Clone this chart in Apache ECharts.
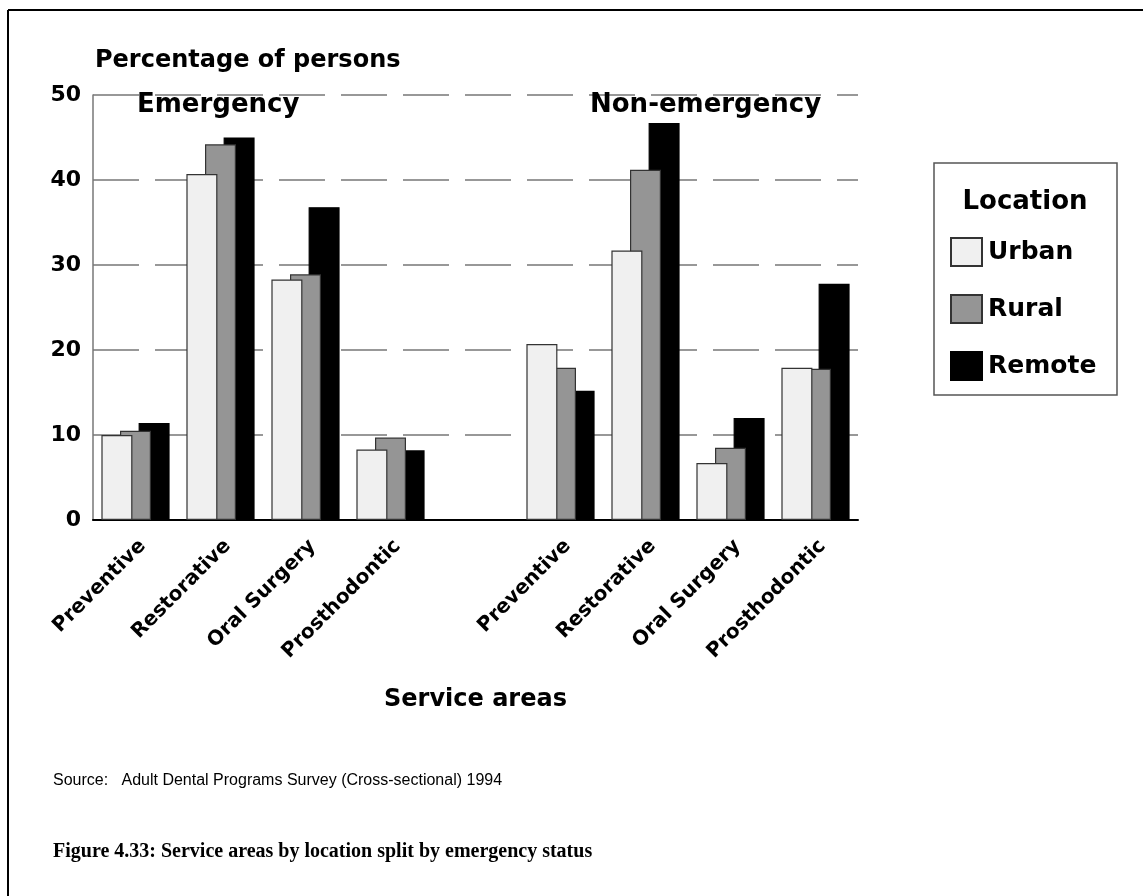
<!DOCTYPE html>
<html>
<head>
<meta charset="utf-8">
<script src="https://cdn.jsdelivr.net/npm/echarts@6/dist/echarts.min.js"></script>
<style>
html,body{margin:0;padding:0;background:#fff;}
#chart{width:1143px;height:896px;}
</style>
</head>
<body>
<div id="chart"></div>
<script>
// ---- data ----
const serviceAreas = ['Preventive', 'Restorative', 'Oral Surgery', 'Prosthodontic'];
const groupLabels = ['Emergency', 'Non-emergency'];
const locations = ['Urban', 'Rural', 'Remote'];
const emergencyUrban = [10.0, 40.7, 28.3, 8.3];
const emergencyRural = [10.5, 44.2, 28.9, 9.7];
const emergencyRemote = [11.4, 45.0, 36.8, 8.2];
const nonEmergencyUrban = [20.7, 31.7, 6.7, 17.9];
const nonEmergencyRural = [17.9, 41.2, 8.5, 17.8];
const nonEmergencyRemote = [15.2, 46.7, 12.0, 27.8];
const yTicks = [0, 10, 20, 30, 40, 50];
const yTitle = 'Percentage of persons';
const xTitle = 'Service areas';
const legendTitle = 'Location';
const sourceText = 'Source:   Adult Dental Programs Survey (Cross-sectional) 1994';
const captionText = 'Figure 4.33: Service areas by location split by emergency status';

// categories: 4 emergency, one empty spacer, 4 non-emergency
const categories = serviceAreas.map(s => 'E|' + s).concat(['gap|']).concat(serviceAreas.map(s => 'N|' + s));
function join(a, b) { return a.concat([null]).concat(b); }
const seriesValues = [
  join(emergencyUrban, nonEmergencyUrban),
  join(emergencyRural, nonEmergencyRural),
  join(emergencyRemote, nonEmergencyRemote)
];
const fills = ['#f0f0f0', '#959595', '#000000'];
const zs = [4, 3, 2];

const FONT = 'DejaVu Sans';
const chart = echarts.init(document.getElementById('chart'), null, {renderer: 'canvas'});

const option = {
  backgroundColor: '#ffffff',
  animation: false,
  grid: {left: 93, right: 285, top: 95, bottom: 376, containLabel: false},
  xAxis: {
    type: 'category',
    data: categories,
    axisLine: {show: true, lineStyle: {color: '#000', width: 2}},
    axisTick: {show: false},
    axisLabel: {
      rotate: 45,
      margin: 16,
      interval: 0,
      verticalAlign: 'top',
      fontFamily: FONT, fontWeight: 'bold', fontSize: 20, color: '#000',
      formatter: v => v.split('|')[1]
    },
    name: xTitle,
    nameLocation: 'middle',
    nameGap: 168,
    nameTextStyle: {fontFamily: FONT, fontWeight: 'bold', fontSize: 24, color: '#000'}
  },
  yAxis: {
    type: 'value',
    min: yTicks[0], max: yTicks[yTicks.length - 1], interval: 10,
    axisLine: {show: true, lineStyle: {color: '#777', width: 1.5}},
    axisTick: {show: false},
    axisLabel: {margin: 12, fontFamily: FONT, fontWeight: 'bold', fontSize: 22, color: '#000'},
    splitLine: {show: true, lineStyle: {color: '#777', width: 1.5, type: [46, 16]}},
    name: yTitle,
    nameLocation: 'end',
    nameGap: 34,
    nameTextStyle: {fontFamily: FONT, fontWeight: 'bold', fontSize: 24, color: '#000', align: 'left', verticalAlign: 'middle', padding: [0, 0, 0, 2]}
  },
  legend: {
    data: locations,
    orient: 'vertical',
    left: 945, top: 232,
    itemWidth: 31, itemHeight: 28, itemGap: 27,
    icon: 'rect',
    textStyle: {fontFamily: FONT, fontWeight: 'bold', fontSize: 25, color: '#000', lineHeight: 28, padding: [0, 0, 0, 1]},
    selectedMode: false
  },
  series: locations.map((name, i) => ({
    name: name,
    type: 'bar',
    data: seriesValues[i],
    barWidth: 31,
    barGap: '-40%',
    z: zs[i],
    itemStyle: {color: fills[i], borderColor: i === 2 ? '#000' : '#333', borderWidth: 1.2}
  })),
  graphic: [
    {type: 'line', shape: {x1: 8, y1: 10, x2: 1143, y2: 10}, style: {stroke: '#000', lineWidth: 2}},
    {type: 'line', shape: {x1: 8, y1: 10, x2: 8, y2: 896}, style: {stroke: '#000', lineWidth: 2}},
    {type: 'rect', shape: {x: 934, y: 163, width: 183, height: 232}, style: {fill: 'none', stroke: '#555', lineWidth: 1.5}},
    {type: 'text', x: 1025, y: 202, style: {text: legendTitle, font: 'bold 26px "DejaVu Sans"', fill: '#000', align: 'center', verticalAlign: 'middle'}},
    {type: 'text', x: 137, y: 105, z: 10, style: {text: groupLabels[0], font: 'bold 26px "DejaVu Sans"', fill: '#000', align: 'left', verticalAlign: 'middle'}},
    {type: 'text', x: 590, y: 105, z: 10, style: {text: groupLabels[1], font: 'bold 26px "DejaVu Sans"', fill: '#000', align: 'left', verticalAlign: 'middle'}},
    {type: 'text', x: 53, y: 781, style: {text: sourceText, font: '16px "Liberation Sans"', fill: '#000', align: 'left', verticalAlign: 'middle'}},
    {type: 'text', x: 53, y: 852, style: {text: captionText, font: 'bold 20px "Liberation Serif"', fill: '#000', align: 'left', verticalAlign: 'middle'}}
  ]
};
chart.setOption(option);
</script>
</body>
</html>
